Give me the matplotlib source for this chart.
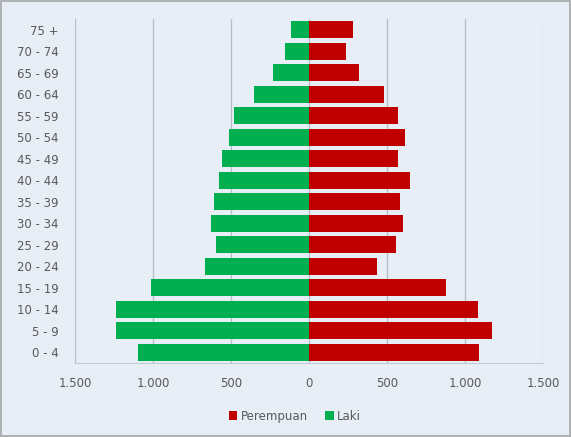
import matplotlib.pyplot as plt
import numpy as np
from matplotlib.ticker import FuncFormatter
from matplotlib.patches import Rectangle

# kelompok umur, dari bawah ke atas
umur = ['0 - 4', '5 - 9', '10 - 14', '15 - 19', '20 - 24', '25 - 29', '30 - 34',
        '35 - 39', '40 - 44', '45 - 49', '50 - 54', '55 - 59', '60 - 64',
        '65 - 69', '70 - 74', '75 +']
laki = [1097, 1239, 1239, 1012, 668, 599, 631, 612, 580, 560, 515, 478, 355, 230, 154, 115]
perempuan = [1090, 1175, 1085, 878, 436, 557, 600, 581, 650, 571, 614, 572, 482, 323, 239, 280]

hijau = '#00b050'
merah = '#c00000'
abu = '#595959'
latar = '#e8eef6'

fig = plt.figure(figsize=(5.71, 4.37), dpi=100, facecolor=latar)
fig.patches.append(Rectangle((0.002, 0.002), 0.996, 0.996, transform=fig.transFigure,
                             fill=False, edgecolor='#a6a6a6', linewidth=1.2))
ax = fig.add_axes([75/571, 1-363/437, (543-75)/571, (363-19)/437])
ax.set_facecolor(latar)

y = np.arange(len(umur))
ax.barh(y, perempuan, height=0.8, color=merah, label='Perempuan', zorder=3)
ax.barh(y, [-v for v in laki], height=0.8, color=hijau, label='Laki', zorder=3)

ax.set_xlim(-1500, 1500)
ax.set_ylim(-0.5, len(umur) - 0.5)
ax.set_xticks(np.arange(-1500, 1501, 500))
ax.xaxis.set_major_formatter(FuncFormatter(lambda v, p: f'{abs(int(v)):,}'.replace(',', '.')))
ax.set_yticks(y)
ax.set_yticklabels(umur)
ax.tick_params(axis='both', length=0, colors=abu, labelsize=8.5)
ax.tick_params(axis='x', pad=10)
ax.tick_params(axis='y', pad=12)
ax.grid(axis='x', color='#b4bcc6', linewidth=0.9, zorder=0)
for s in ['top', 'right', 'left']:
    ax.spines[s].set_visible(False)
ax.spines['bottom'].set_color('#c4ccd6')

ax.legend(loc='upper center', bbox_to_anchor=(0.47, -0.105), ncol=2, frameon=False,
          fontsize=8.5, labelcolor=abu, handlelength=0.7, handleheight=0.7,
          handletextpad=0.3, columnspacing=1.5)

fig.savefig('out.png', dpi=100, facecolor=latar)
